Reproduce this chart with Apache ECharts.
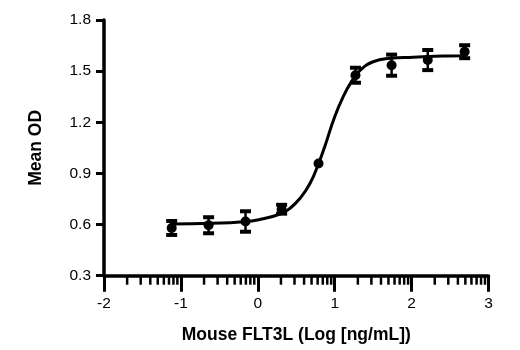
<!DOCTYPE html>
<html>
<head>
<meta charset="utf-8">
<script src="https://cdn.jsdelivr.net/npm/echarts@6/dist/echarts.min.js"></script>
<style>
  html, body { margin: 0; padding: 0; background: #fff; }
  #chart { width: 520px; height: 350px; }
</style>
</head>
<body>
<div id="chart"></div>
<script>
// Measured points: log10 concentration, mean OD and error (±)
const logConc = [-1.12, -0.64, -0.16, 0.31, 0.79, 1.27, 1.74, 2.21, 2.69];
const meanOD  = [0.580, 0.596, 0.618, 0.690, 0.958, 1.476, 1.535, 1.565, 1.614];
const errOD   = [0.041, 0.047, 0.060, 0.026, 0.012, 0.044, 0.062, 0.059, 0.038];

// Fitted dose-response curve, sampled
const curveX = [-1.12, -0.6, -0.23, 0.03, 0.29, 0.42, 0.55, 0.68, 0.79, 0.87, 1.0, 1.11, 1.22, 1.33, 1.5, 1.72, 2.02, 2.46, 2.69];
const curveY = [0.603, 0.608, 0.615, 0.630, 0.662, 0.696, 0.754, 0.842, 0.958, 1.057, 1.233, 1.350, 1.440, 1.505, 1.555, 1.575, 1.582, 1.589, 1.591];

// Axis ranges and ticks
const xMin = -2, xMax = 3, xStep = 1;
const yMin = 0.3, yMax = 1.8, yStep = 0.3;

// Minor log ticks between decades (2..9 × 10^k)
const minorTicks = [];
for (let d = xMin; d < xMax; d++) {
  for (let m = 2; m <= 9; m++) minorTicks.push([d + Math.log10(m), yMin]);
}

const curveData = curveX.map((x, i) => [x, curveY[i]]);
const pointData = logConc.map((x, i) => [x, meanOD[i]]);
const errData = logConc.map((x, i) => [x, meanOD[i] - errOD[i], meanOD[i] + errOD[i]]);

const markerSize = 10;
const tickFont = "'Liberation Sans', Arial, sans-serif";
const titleFont = "'Liberation Sans', Arial, sans-serif";

const chart = echarts.init(document.getElementById('chart'), null, { renderer: 'canvas' });
chart.setOption({
  animation: false,
  backgroundColor: '#fff',
  grid: { left: 104, right: 31.5, top: 20, bottom: 74.3, containLabel: false },
  xAxis: {
    type: 'value', min: xMin, max: xMax, interval: xStep,
    name: 'Mouse FLT3L (Log [ng/mL])',
    nameLocation: 'middle', nameGap: 50,
    nameTextStyle: { fontFamily: titleFont, fontWeight: 'bold', fontSize: 17.5, color: '#000' },
    axisLine: { onZero: false, lineStyle: { color: '#000', width: 3.5 } },
    axisTick: { inside: false, length: 16, lineStyle: { color: '#000', width: 3 } },
    axisLabel: { margin: 20, fontFamily: tickFont, fontSize: 15.5, color: '#000' },
    splitLine: { show: false }
  },
  yAxis: {
    type: 'value', min: yMin, max: yMax, interval: yStep,
    name: 'Mean OD',
    nameLocation: 'middle', nameGap: 59,
    nameTextStyle: { fontFamily: titleFont, fontWeight: 'bold', fontSize: 17.5, color: '#000' },
    axisLine: { onZero: false, lineStyle: { color: '#000', width: 3.5 } },
    axisTick: { inside: false, length: 8, lineStyle: { color: '#000', width: 3 } },
    axisLabel: {
      margin: 13, fontFamily: tickFont, fontSize: 15.5, color: '#000',
      formatter: v => v.toFixed(1)
    },
    splitLine: { show: false }
  },
  series: [
    {
      type: 'custom',
      name: 'minor ticks',
      silent: true,
      data: minorTicks,
      renderItem: (params, api) => {
        const p = api.coord([api.value(0), api.value(1)]);
        return {
          type: 'line',
          shape: { x1: p[0], y1: p[1], x2: p[0], y2: p[1] + 9 },
          style: { stroke: '#000', lineWidth: 2.5 }
        };
      },
      z: 1
    },
    {
      type: 'line',
      name: 'fit',
      data: curveData,
      smooth: 0.5,
      showSymbol: false,
      lineStyle: { color: '#000', width: 3 },
      z: 2
    },
    {
      type: 'custom',
      name: 'error',
      data: errData,
      renderItem: (params, api) => {
        const x = api.value(0);
        const lo = api.coord([x, api.value(1)]);
        const hi = api.coord([x, api.value(2)]);
        // very short bars stay hidden behind the marker
        if (Math.abs(lo[1] - hi[1]) < markerSize * 0.6) return null;
        const half = 5.5;
        return {
          type: 'group',
          children: [
            { type: 'line', shape: { x1: lo[0], y1: lo[1], x2: hi[0], y2: hi[1] },
              style: { stroke: '#000', lineWidth: 2.5 } },
            { type: 'line', shape: { x1: lo[0] - half, y1: lo[1], x2: lo[0] + half, y2: lo[1] },
              style: { stroke: '#000', lineWidth: 4 } },
            { type: 'line', shape: { x1: hi[0] - half, y1: hi[1], x2: hi[0] + half, y2: hi[1] },
              style: { stroke: '#000', lineWidth: 4 } }
          ]
        };
      },
      z: 3
    },
    {
      type: 'scatter',
      name: 'mean',
      data: pointData,
      symbol: 'circle',
      symbolSize: markerSize,
      itemStyle: { color: '#000', opacity: 1 },
      z: 4
    }
  ]
});
</script>
</body>
</html>
